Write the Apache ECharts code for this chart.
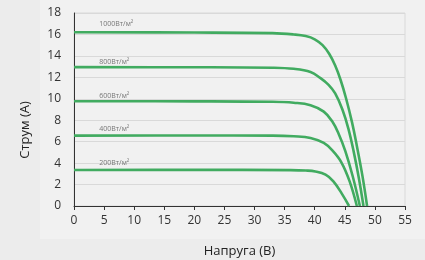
<!DOCTYPE html>
<html>
<head>
<meta charset="utf-8">
<script src="https://cdn.jsdelivr.net/npm/echarts@6/dist/echarts.min.js"></script>
<style>
html,body{margin:0;padding:0;background:#ececec;}
#c{width:425px;height:260px;}
</style>
</head>
<body>
<div id="c"></div>
<script>
// Irradiance levels and I-V curves (voltage V, current A)
var seriesNames = ['1000Вт/м²', '800Вт/м²', '600Вт/м²', '400Вт/м²', '200Вт/м²'];
var curve1000 = [[0,16.2],[20,16.18],[33,16.12],[36.5,16.0],[38.5,15.85],[40.0,15.55],[41.3,15.0],[42.4,14.2],[43.4,13.1],[44.3,11.75],[45.2,10.05],[46.2,7.8],[47.0,5.6],[47.9,2.9],[48.7,0]];
var curve800  = [[0,12.95],[20,12.94],[33,12.9],[36.5,12.8],[39.3,12.5],[40.9,11.95],[42.3,11.3],[43.4,10.5],[44.6,9.0],[45.6,7.2],[46.5,5.0],[47.3,2.7],[48.1,0]];
var curve600  = [[0,9.77],[20,9.76],[33,9.72],[36.5,9.63],[39.3,9.4],[41.5,8.8],[42.9,7.9],[44.0,6.7],[45.1,5.1],[46.3,2.8],[47.5,0]];
var curve400  = [[0,6.56],[20,6.57],[33,6.56],[36.5,6.5],[39.3,6.35],[41.5,5.88],[42.9,5.2],[44.4,4.1],[45.8,2.3],[47.0,0]];
var curve200  = [[0,3.36],[20,3.37],[36,3.35],[38.5,3.31],[40.1,3.22],[41.8,2.92],[43.1,2.3],[44.5,1.15],[45.7,0]];
var curves = [curve1000, curve800, curve600, curve400, curve200];
// label anchors (voltage, current) for irradiance labels
var labelAnchors = [[4.2,16.98],[4.2,13.43],[4.2,10.29],[4.2,7.15],[4.2,3.98]];
var xTicks = {min:0, max:55, interval:5};
var yTicks = {min:0, max:18, interval:2};
var xTitle = 'Напруга (В)';
var yTitle = 'Струм (А)';

var chart = echarts.init(document.getElementById('c'), null, {renderer:'canvas'});
var series = curves.map(function(c, i){
  return {
    name: seriesNames[i], type:'line', data:c, smooth:0.4,
    showSymbol:false, symbol:'none',
    lineStyle:{color:'#41ab60', width:2.6}, z:3
  };
});
series.push({
  type:'scatter', symbolSize:0, z:4, silent:true,
  data: labelAnchors.map(function(p,i){ return {value:p, name:seriesNames[i]}; }),
  label:{show:true, position:'right', distance:0, formatter:function(p){return p.name;},
    fontFamily:'Open Sans', fontSize:7, color:'#555'}
});
chart.setOption({
  animation:false,
  backgroundColor:'#ececec',
  graphic:[
    {type:'rect', shape:{x:40,y:0,width:385,height:239}, style:{fill:'#f1f1f1'}, z:-10, silent:true},
    {type:'text', x:25, y:130, rotation:Math.PI/2,
      style:{text:yTitle, fontFamily:'Open Sans', fontSize:13, fill:'#222', align:'center', verticalAlign:'middle'}}
  ],
  grid:{left:74, right:20, top:13, bottom:54, containLabel:false, outerBoundsMode:'none',
    show:true, borderColor:'#d9d9d9', borderWidth:1, backgroundColor:'transparent'},
  xAxis:{
    type:'value', min:xTicks.min, max:xTicks.max, interval:xTicks.interval,
    name:xTitle, nameLocation:'middle', nameGap:39,
    nameTextStyle:{fontFamily:'Open Sans', fontSize:13, color:'#222'},
    axisLine:{show:true, onZero:false, lineStyle:{color:'#333', width:1}},
    axisTick:{show:true, length:4, lineStyle:{color:'#333'}},
    axisLabel:{fontFamily:'Open Sans', fontSize:12, color:'#333', margin:9},
    splitLine:{show:false}
  },
  yAxis:{
    type:'value', min:yTicks.min, max:yTicks.max, interval:yTicks.interval,
    axisLine:{show:true, lineStyle:{color:'#333', width:1}},
    axisTick:{show:false},
    axisLabel:{fontFamily:'Open Sans', fontSize:12, color:'#333', margin:13},
    splitLine:{show:true, lineStyle:{color:'#d9d9d9', width:1}}
  },
  series:series
});
</script>
</body>
</html>
